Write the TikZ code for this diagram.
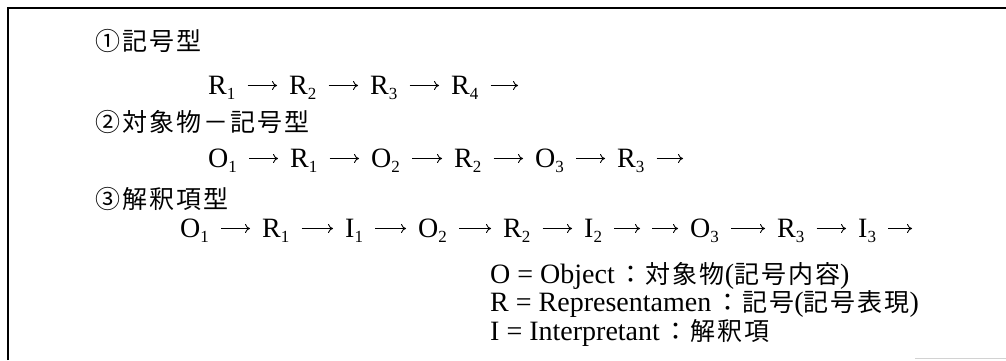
\documentclass[tikz,border=0pt]{standalone}
\usepackage{fontspec}
\setmainfont{Liberation Serif}
\newfontfamily\jpfont[LetterSpace=8]{Noto Sans CJK JP}
\usepackage{tikz}
\usetikzlibrary{arrows.meta}

\newcommand{\bigtext}{\fontsize{28}{29}\selectfont}
\newcommand{\jptext}{\fontsize{25}{29}\selectfont\jpfont}
\newcommand{\idx}[1]{\raisebox{-5.5pt}{\fontsize{17}{17}\selectfont #1}}

\begin{document}
\begin{tikzpicture}[x=1pt, y=-1pt,
    frame/.style={line width=2pt},
    heading/.style={anchor=base west, inner sep=0pt, font=\jptext},
    term/.style={anchor=base west, inner sep=0pt, font=\bigtext, text height=17pt, text depth=0pt},
    legend/.style={anchor=base west, inner sep=0pt, font=\bigtext},
    link/.style={-{To[length=5pt,width=9pt]}, line width=0.9pt, shorten <=12pt, shorten >=12pt},
    tail/.style={link, shorten >=0pt}
]
    \useasboundingbox (0,0) rectangle (1006,360);
    \draw[frame] (8,360) -- (8,8) -- (1006,8);
    \draw[gray!35, line width=1pt] (915,358) -- (1006,358);

    % (1) sign type
    \node[heading] (h1) at (95,50) {①記号型};
    \node[term] (ar1) at (208,94) {R\idx{1}};
    \node[term] (ar2) at (289,94) {R\idx{2}};
    \node[term] (ar3) at (370,94) {R\idx{3}};
    \node[term] (ar4) at (451,94) {R\idx{4}};
    \coordinate (aend) at (518,85.5);
    \draw[link] (ar1) -- (ar2);
    \draw[link] (ar2) -- (ar3);
    \draw[link] (ar3) -- (ar4);
    \draw[tail] (ar4) -- (aend);

    % (2) object-sign type
    \node[heading] (h2) at (95,131) {②対象物－記号型};
    \node[term] (bo1) at (208,167) {O\idx{1}};
    \node[term] (br1) at (290,167) {R\idx{1}};
    \node[term] (bo2) at (371,167) {O\idx{2}};
    \node[term] (br2) at (454,167) {R\idx{2}};
    \node[term] (bo3) at (535,167) {O\idx{3}};
    \node[term] (br3) at (617,167) {R\idx{3}};
    \coordinate (bend) at (683,158.5);
    \draw[link] (bo1) -- (br1);
    \draw[link] (br1) -- (bo2);
    \draw[link] (bo2) -- (br2);
    \draw[link] (br2) -- (bo3);
    \draw[link] (bo3) -- (br3);
    \draw[tail] (br3) -- (bend);

    % (3) interpretant type
    \node[heading] (h3) at (95,208) {③解釈項型};
    \node[term] (co1) at (180,237) {O\idx{1}};
    \node[term] (cr1) at (262,237) {R\idx{1}};
    \node[term] (ci1) at (345,237) {I\idx{1}};
    \node[term] (co2) at (418,237) {O\idx{2}};
    \node[term] (cr2) at (503,237) {R\idx{2}};
    \node[term] (ci2) at (584,237) {I\idx{2}};
    \coordinate (cgap) at (640,228.5);
    \node[term] (co3) at (690,237) {O\idx{3}};
    \node[term] (cr3) at (777,237) {R\idx{3}};
    \node[term] (ci3) at (858,237) {I\idx{3}};
    \coordinate (cend) at (912,228.5);
    \draw[link] (co1) -- (cr1);
    \draw[link] (cr1) -- (ci1);
    \draw[link] (ci1) -- (co2);
    \draw[link] (co2) -- (cr2);
    \draw[link] (cr2) -- (ci2);
    \draw[tail] (ci2) -- (cgap);
    \draw[link] (cgap) -- (co3);
    \draw[link] (co3) -- (cr3);
    \draw[link] (cr3) -- (ci3);
    \draw[tail] (ci3) -- (cend);

    % legend
    \node[legend] (lo) at (490,283) {O = Object\hspace{4pt}{\jptext ：対象物}({\jptext 記号内容})};
    \node[legend] (lr) at (490,311) {R = Representamen\hspace{4pt}{\jptext ：記号}({\jptext 記号表現})};
    \node[legend] (li) at (490,340) {I = Interpretant\hspace{4pt}{\jptext ：解釈項}};
\end{tikzpicture}
\end{document}
